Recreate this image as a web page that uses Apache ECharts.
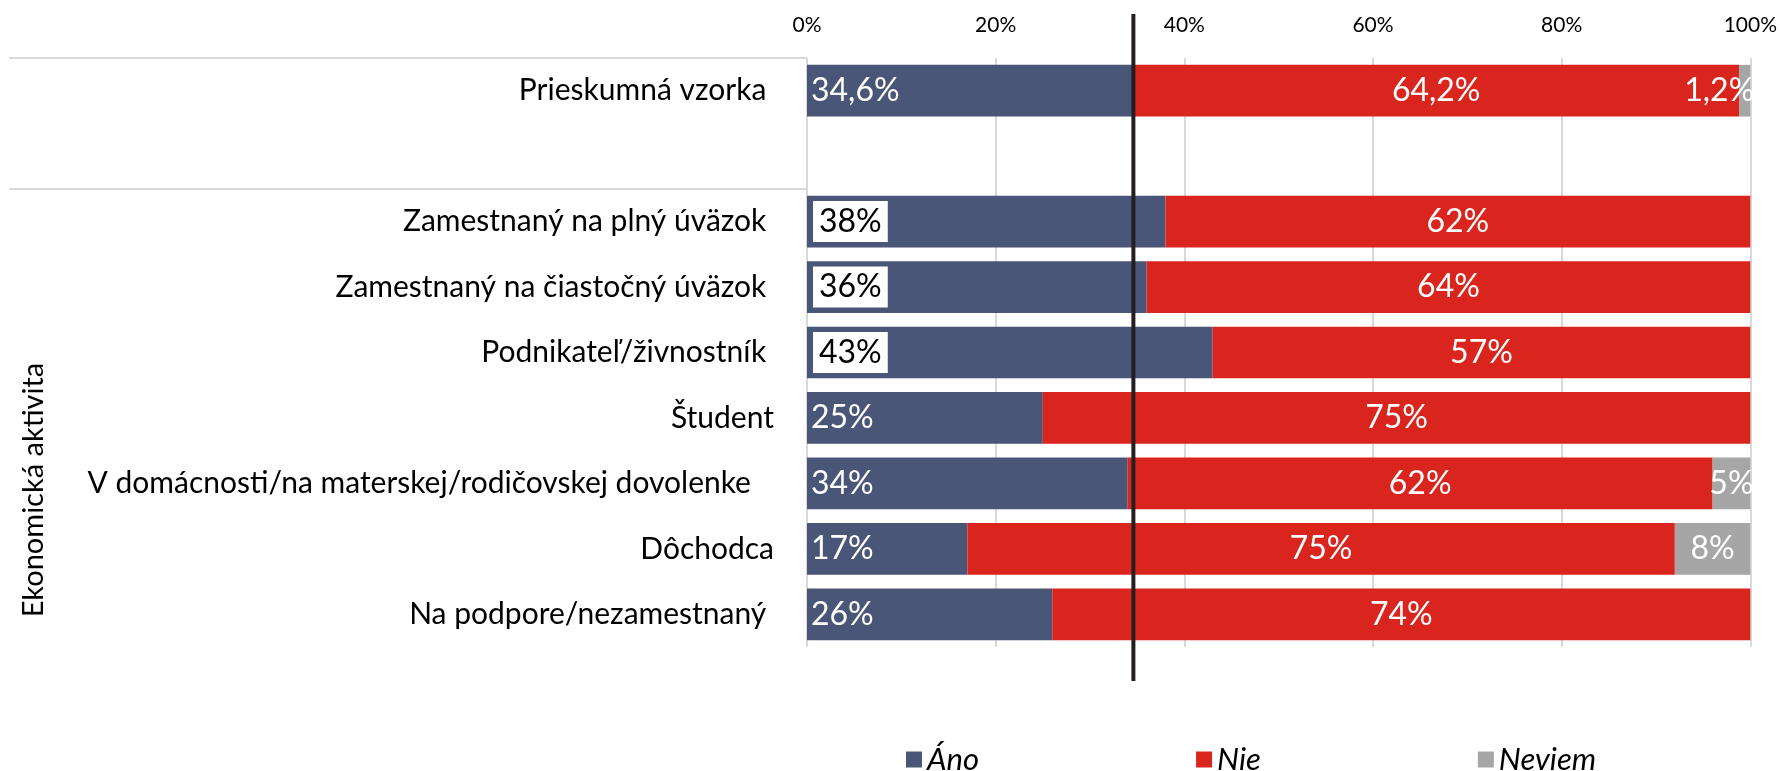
<!DOCTYPE html>
<html>
<head>
<meta charset="utf-8">
<script src="https://cdn.jsdelivr.net/npm/echarts@6/dist/echarts.min.js"></script>
<style>
  html, body { margin: 0; padding: 0; background: #fff; }
  #chart { width: 1780px; height: 771px; }
</style>
</head>
<body>
<div id="chart"></div>
<script>
// Categories (an empty row separates the whole sample from the activity groups)
const categories = [
  'Prieskumná vzorka ',
  '',
  'Zamestnaný na plný úväzok ',
  'Zamestnaný na čiastočný úväzok ',
  'Podnikateľ/živnostník ',
  'Študent',
  'V domácnosti/na materskej/rodičovskej dovolenke   ',
  'Dôchodca',
  'Na podpore/nezamestnaný '
];
const seriesNames = ['Áno', 'Nie', 'Neviem'];
const anoValues    = [34.6, null, 38, 36, 43, 25, 34, 17, 26];
const nieValues    = [64.2, null, 62, 64, 57, 75, 62, 75, 74];
const neviemValues = [1.2,  null, null, null, null, null, 5, 8, null];
const xTicks = [0, 20, 40, 60, 80, 100];
const groupTitle = 'Ekonomická aktivita';
const sampleLineValue = 34.6;   // reference line: share of "Áno" in the whole sample

// rows whose "Áno" label sits in a white box
const boxedRows = [2, 3, 4];

const FONT = 'Lato, "Noto Sans", sans-serif';
const colors = ['#4a5677', '#d9251d', '#a6a6a6'];

const fmt = v => String(v).replace('.', ',') + '%';

const anoData = anoValues.map((v, i) => {
  if (boxedRows.indexOf(i) >= 0) {
    return {
      value: v,
      label: {
        color: '#000',
        backgroundColor: '#fff',
        padding: [5, 6, 4, 6],
        distance: 6
      }
    };
  }
  return v;
});
const neviemData = neviemValues.map(v => {
  if (v !== null && v < 2) {
    return { value: v, label: { position: 'insideRight', distance: -4 } };
  }
  return v;
});

const baseLabel = {
  show: true,
  color: '#fff',
  fontFamily: FONT,
  fontSize: 32,
  formatter: p => (p.value === null || p.value === undefined) ? '' : fmt(p.value)
};

const chart = echarts.init(document.getElementById('chart'), null, { renderer: 'canvas' });

chart.setOption({
  animation: false,
  backgroundColor: '#fff',
  color: colors,
  grid: { left: 807, right: 26, top: 58, bottom: 124, containLabel: false },
  xAxis: {
    type: 'value',
    position: 'top',
    min: xTicks[0],
    max: xTicks[xTicks.length - 1],
    interval: 20,
    axisLine: { show: false },
    axisTick: { show: false },
    axisLabel: {
      formatter: '{value}%',
      color: '#000',
      fontFamily: FONT,
      fontSize: 21,
      margin: 22
    },
    splitLine: { lineStyle: { color: '#d9d9d9', width: 2 } }
  },
  yAxis: {
    type: 'category',
    inverse: true,
    data: categories,
    axisLine: { show: false },
    axisTick: { show: false },
    axisLabel: {
      color: '#000',
      fontFamily: FONT,
      fontSize: 30,
      margin: 33
    }
  },
  legend: {
    data: seriesNames,
    left: 906,
    top: 744,
    padding: 0,
    icon: 'rect',
    itemWidth: 16,
    itemHeight: 16,
    itemGap: 217,
    textStyle: { color: '#000', fontFamily: FONT, fontSize: 31, fontStyle: 'italic' }
  },
  series: [
    {
      name: seriesNames[0], type: 'bar', stack: 'total', barCategoryGap: '21%',
      data: anoData,
      label: Object.assign({}, baseLabel, { position: 'insideLeft', distance: 4 })
    },
    {
      name: seriesNames[1], type: 'bar', stack: 'total', barCategoryGap: '21%',
      data: nieValues,
      label: Object.assign({}, baseLabel, { position: 'inside' })
    },
    {
      name: seriesNames[2], type: 'bar', stack: 'total', barCategoryGap: '21%',
      data: neviemData,
      label: Object.assign({}, baseLabel, { position: 'inside' })
    }
  ]
});

// Reference line and group separators, positioned through the axes
const c0 = chart.convertToPixel({ yAxisIndex: 0 }, 0);
const c1 = chart.convertToPixel({ yAxisIndex: 0 }, 1);
const band = c1 - c0;
const gridLeft = chart.convertToPixel({ xAxisIndex: 0 }, 0);
const lineX = chart.convertToPixel({ xAxisIndex: 0 }, sampleLineValue);
const sepTop = c0 - band / 2;
const sepGroup = c1 + band / 2;

chart.setOption({
  graphic: [
    {
      type: 'line', silent: true, z: 100,
      shape: { x1: lineX, y1: 14, x2: lineX, y2: 681 },
      style: { stroke: '#231f20', lineWidth: 4 }
    },
    {
      type: 'line', silent: true,
      shape: { x1: 9, y1: sepTop, x2: gridLeft, y2: sepTop },
      style: { stroke: '#d9d9d9', lineWidth: 2 }
    },
    {
      type: 'line', silent: true,
      shape: { x1: 9, y1: sepGroup, x2: gridLeft, y2: sepGroup },
      style: { stroke: '#d9d9d9', lineWidth: 2 }
    },
    {
      type: 'text', silent: true,
      x: 34, y: 490, rotation: Math.PI / 2,
      style: {
        text: groupTitle,
        fill: '#000',
        font: '29px ' + FONT,
        textAlign: 'center',
        textVerticalAlign: 'middle'
      }
    }
  ]
});
</script>
</body>
</html>
